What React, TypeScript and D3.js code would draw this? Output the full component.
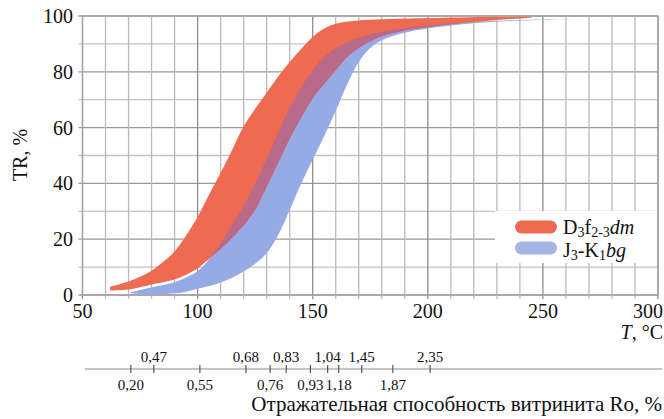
import React from 'react';
import * as d3 from 'd3';

// D3f2-3dm band (red)
const redTemps = [62, 65, 70, 75, 80, 85, 90, 95, 100, 105, 110, 115, 120, 125, 130, 135, 140, 145, 150, 155, 160, 165, 170, 180, 190, 200, 215, 230, 245];
const redUpper = [3.0, 3.6, 4.8, 6.5, 8.7, 11.8, 15.6, 21.3, 28, 36, 43.8, 52, 60.5, 66.8, 72.5, 78.3, 83.5, 88.2, 92.5, 95.5, 97.2, 98, 98.4, 98.8, 99.1, 99.3, 99.5, 99.6, 99.7];
const redLower = [1.6, 1.7, 2.0, 2.8, 3.8, 4.6, 5.6, 7.3, 9.5, 13, 16.5, 20.5, 25, 30.6, 38.8, 47.4, 56, 63.6, 70.5, 75.7, 80.6, 85.3, 88.5, 92.7, 94.8, 96, 97.5, 98.6, 99.4];

// J3-K1bg band (blue)
const blueTemps = [71, 75, 80, 85, 90, 95, 100, 105, 110, 115, 120, 125, 130, 135, 140, 145, 150, 155, 160, 165, 170, 175, 180, 190, 200, 215, 230, 245, 265];
const blueUpper = [1.0, 1.8, 2.8, 3.6, 4.6, 6.3, 8.5, 12.8, 18.5, 25.2, 32, 40, 48.8, 58, 67, 74.5, 80.5, 85.3, 88.4, 90.6, 92.2, 93.4, 94.3, 95.6, 96.6, 97.6, 98.3, 98.7, 98.9];
const blueLower = [0.5, 0.3, 0.2, 0.3, 0.6, 1.2, 2.2, 3.2, 4.5, 6.2, 8.4, 11.2, 15, 21.5, 30.5, 40, 48.5, 57, 66, 75.5, 83.5, 88.5, 91.3, 94, 95.5, 97, 97.9, 98.5, 98.9];

const tempLabels = [50, 100, 150, 200, 250, 300];
const trLabels = [0, 20, 40, 60, 80, 100];

// vitrinite reflectance scale, placed at temperatures
const roLabels = ['0,20', '0,47', '0,55', '0,68', '0,76', '0,83', '0,93', '1,04', '1,18', '1,45', '1,87', '2,35'];
const roTemps = [71, 81, 101, 121, 131.5, 138.5, 149, 156.5, 161.3, 171.3, 184.8, 201];

const RED = '#EE6A50';
const BLUE = '#96AAE6';
const MIX = '#B86A88';
const FONT = 'Liberation Serif, DejaVu Serif, serif';

export default function App() {
  const W = 664, H = 419;
  const x = d3.scaleLinear().domain([50, 300]).range([82.5, 658]);
  const y = d3.scaleLinear().domain([0, 100]).range([295, 16]);

  const band = (temps: number[], hi: number[], lo: number[]) =>
    d3.area<number>()
      .x((i) => x(temps[i]))
      .y0((i) => y(lo[i]))
      .y1((i) => y(hi[i]))
      .curve(d3.curveCatmullRom.alpha(0.5))(temps.map((_, i) => i)) as string;

  const redPath = band(redTemps, redUpper, redLower);
  const bluePath = band(blueTemps, blueUpper, blueLower);

  const xGrid = d3.range(50, 301, 10);
  const yGrid = d3.range(0, 101, 10);
  const ts = { fontFamily: FONT, fill: '#111' };

  return (
    <div style={{ position: 'absolute', left: 0, top: 0 }}>
      <svg width={W} height={H} style={{ display: 'block', background: '#fff' }}>
        <defs>
          <clipPath id="redClip">
            <path d={redPath} />
          </clipPath>
        </defs>

        {/* grid */}
        {yGrid.map((v) => (
          <line key={'gy' + v} x1={x(50) - 4} x2={x(300)} y1={y(v)} y2={y(v)}
            stroke={v % 20 === 0 ? '#A39595' : '#C6C2C2'} strokeWidth={1.3} />
        ))}
        {xGrid.map((v) => (
          <line key={'gx' + v} x1={x(v)} x2={x(v)} y1={y(100)} y2={y(0) + 4}
            stroke={v % 50 === 0 ? '#918B8B' : '#BDB9B9'} strokeWidth={1.3} />
        ))}
        <rect x={x(50)} y={y(100)} width={x(300) - x(50)} height={y(0) - y(100)}
          fill="none" stroke="#A8A3A3" strokeWidth={1.3} />

        {/* bands */}
        <path d={bluePath} fill={BLUE} />
        <path d={redPath} fill={RED} />
        <path d={bluePath} fill={MIX} clipPath="url(#redClip)" />

        {/* y labels */}
        {trLabels.map((v) => (
          <text key={'ty' + v} x={73} y={y(v) + 7} fontSize={20} textAnchor="end" style={ts}>{v}</text>
        ))}
        <text transform={`translate(27,155) rotate(-90)`} fontSize={20} textAnchor="middle" style={ts}>TR, %</text>

        {/* x labels */}
        {tempLabels.map((v) => (
          <text key={'tx' + v} x={v === 300 ? 663 : x(v)} y={318} fontSize={20}
            textAnchor={v === 300 ? 'end' : 'middle'} style={ts}>{v}</text>
        ))}
        <text x={663} y={339} fontSize={20} textAnchor="end" style={ts}>
          <tspan fontStyle="italic">T</tspan>, °C
        </text>

        {/* legend */}
        <rect x={495} y={211} width={162} height={52} fill="#fff" />
        <rect x={515} y={220.5} width={42} height={13} rx={6.5} fill={RED} />
        <rect x={515} y={241.5} width={42} height={13} rx={6.5} fill="#A3B4E4" />
        <text x={563} y={234} fontSize={20} style={ts}>
          <tspan>D</tspan>
          <tspan dy={3} fontSize={14}>3</tspan>
          <tspan dy={-3}>f</tspan>
          <tspan dy={3} fontSize={14}>2-3</tspan>
          <tspan dy={-3} fontStyle="italic">dm</tspan>
        </text>
        <text x={563} y={257} fontSize={20} style={ts}>
          <tspan>J</tspan>
          <tspan dy={3} fontSize={14}>3</tspan>
          <tspan dy={-3}>-K</tspan>
          <tspan dy={3} fontSize={14}>1</tspan>
          <tspan dy={-3} fontStyle="italic">bg</tspan>
        </text>

        {/* Ro scale */}
        <line x1={85} x2={662} y1={369} y2={369} stroke="#8A8A8A" strokeWidth={1.2} />
        {roTemps.map((t, i) => (
          <g key={'ro' + i}>
            <line x1={x(t)} x2={x(t)} y1={365} y2={373} stroke="#555" strokeWidth={1.2} />
            <text x={x(t)} y={i % 2 === 0 ? 390 : 362} fontSize={15} textAnchor="middle" style={ts}>{roLabels[i]}</text>
          </g>
        ))}
        <text x={662} y={411} fontSize={21} textAnchor="end" style={ts}>Отражательная способность витринита Ro, %</text>
      </svg>
    </div>
  );
}
